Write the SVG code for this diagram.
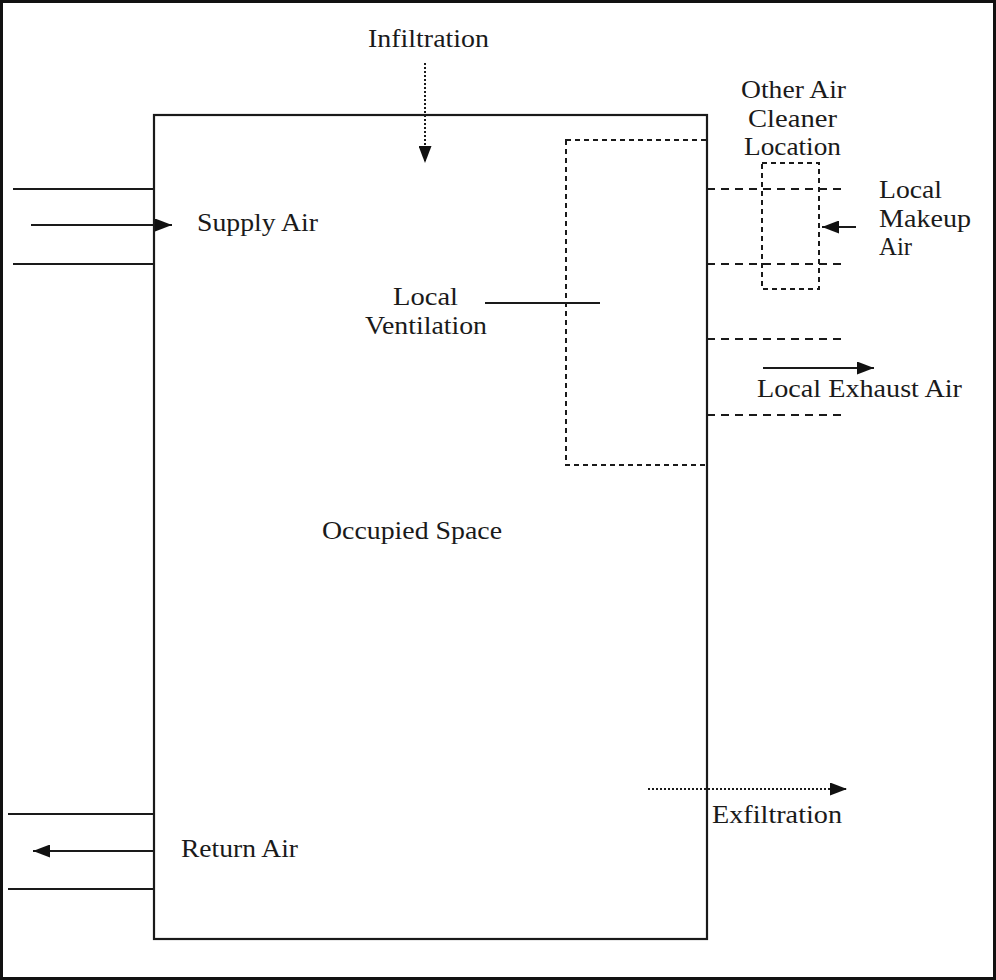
<svg xmlns="http://www.w3.org/2000/svg" width="996" height="980" viewBox="0 0 996 980">
<style>
.t{font-family:"Liberation Serif","Times New Roman",serif;font-size:25px;fill:#1a1a1a}
.s{stroke:#1a1a1a;stroke-width:2.2;fill:none}
.d{stroke:#1a1a1a;stroke-width:2;fill:none;stroke-dasharray:8 6}
.df{stroke:#1a1a1a;stroke-width:2;fill:none;stroke-dasharray:5 4}
.dot{stroke:#1a1a1a;stroke-width:2;fill:none;stroke-dasharray:2 2}
</style>
<defs>
<marker id="ahl" markerWidth="17" markerHeight="13" refX="17" refY="6.5" orient="auto" markerUnits="userSpaceOnUse" viewBox="0 0 17 13">
<path d="M0,0 L17,6.5 L0,13 Z" fill="#111"/>
</marker>
</defs>
<rect x="0" y="0" width="996" height="980" fill="#fff"/>
<rect x="1.5" y="1.5" width="993" height="977" fill="none" stroke="#111" stroke-width="3"/>

<g id="occupied-space">
<rect x="154" y="115" width="553" height="824" class="s"/>
<text class="t" x="322" y="539" textLength="180" lengthAdjust="spacingAndGlyphs">Occupied Space</text>
</g>

<g id="local-ventilation">
<rect x="566" y="140" width="141" height="325" class="df"/>
<text class="t" x="393" y="305" textLength="65" lengthAdjust="spacingAndGlyphs">Local</text>
<text class="t" x="365" y="334" textLength="122" lengthAdjust="spacingAndGlyphs">Ventilation</text>
</g>

<g id="air-cleaner">
<rect x="762" y="163" width="57" height="126" class="df"/>
<text class="t" x="741" y="98" textLength="105" lengthAdjust="spacingAndGlyphs">Other Air</text>
<text class="t" x="748" y="127" textLength="89" lengthAdjust="spacingAndGlyphs">Cleaner</text>
<text class="t" x="744" y="155" textLength="97" lengthAdjust="spacingAndGlyphs">Location</text>
</g>

<g id="labels">
<text class="t" x="368" y="47" textLength="121" lengthAdjust="spacingAndGlyphs">Infiltration</text>
<text class="t" x="197" y="231" textLength="121" lengthAdjust="spacingAndGlyphs">Supply Air</text>
<text class="t" x="879" y="198" textLength="63" lengthAdjust="spacingAndGlyphs">Local</text>
<text class="t" x="879" y="227" textLength="92" lengthAdjust="spacingAndGlyphs">Makeup</text>
<text class="t" x="879" y="255" textLength="33" lengthAdjust="spacingAndGlyphs">Air</text>
<text class="t" x="757" y="397" textLength="205" lengthAdjust="spacingAndGlyphs">Local Exhaust Air</text>
<text class="t" x="712" y="823" textLength="130" lengthAdjust="spacingAndGlyphs">Exfiltration</text>
<text class="t" x="181" y="857" textLength="117" lengthAdjust="spacingAndGlyphs">Return Air</text>
</g>

<g id="connectors">
<line x1="13" y1="189" x2="154" y2="189" class="s"/>
<line x1="13" y1="264" x2="154" y2="264" class="s"/>
<line x1="31" y1="225" x2="172" y2="225" class="s" marker-end="url(#ahl)"/>
<line x1="8" y1="814" x2="154" y2="814" class="s"/>
<line x1="8" y1="889" x2="154" y2="889" class="s"/>
<line x1="154" y1="851" x2="33" y2="851" class="s" marker-end="url(#ahl)"/>
<line x1="425" y1="63" x2="425" y2="163" class="dot" marker-end="url(#ahl)"/>
<line x1="485" y1="303" x2="600" y2="303" class="s"/>
<line x1="707" y1="189" x2="846" y2="189" class="d"/>
<line x1="707" y1="264" x2="846" y2="264" class="d"/>
<line x1="707" y1="339" x2="846" y2="339" class="d"/>
<line x1="707" y1="415" x2="846" y2="415" class="d"/>
<line x1="856" y1="227" x2="822" y2="227" class="s" marker-end="url(#ahl)"/>
<line x1="763" y1="368" x2="874" y2="368" class="s" marker-end="url(#ahl)"/>
<line x1="648" y1="789" x2="847" y2="789" class="dot" marker-end="url(#ahl)"/>
</g>
</svg>
